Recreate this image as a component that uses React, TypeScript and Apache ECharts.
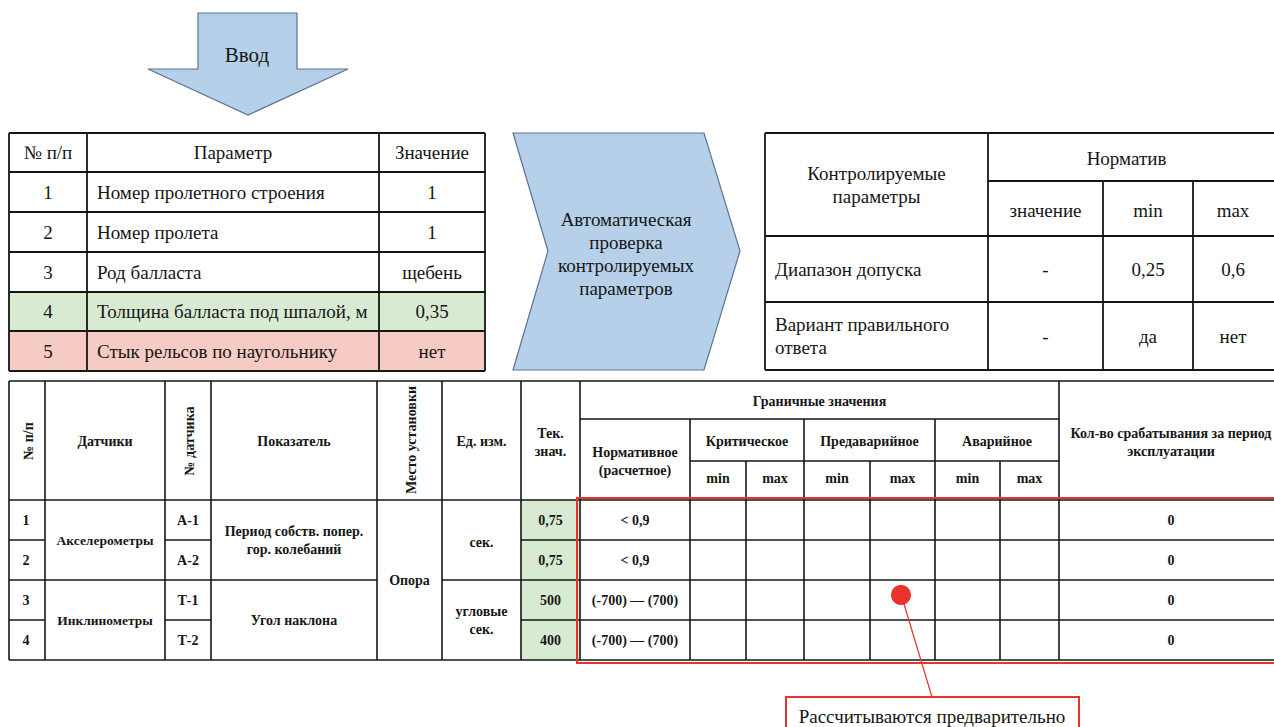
import React, { useEffect, useRef } from "react";
import * as echarts from "echarts";

// ---------- data ----------
const inputArrowLabel = "Ввод";
const checkLabel = "Автоматическая\nпроверка\nконтролируемых\nпараметров";

const inputHeaders = ["№ п/п", "Параметр", "Значение"];
const inputNums = ["1", "2", "3", "4", "5"];
const inputParams = [
  "Номер пролетного строения",
  "Номер пролета",
  "Род балласта",
  "Толщина балласта под шпалой, м",
  "Стык рельсов по наугольнику",
];
const inputValues = ["1", "1", "щебень", "0,35", "нет"];

const controlHeader = "Контролируемые\nпараметры";
const controlGroup = "Норматив";
const controlSubHeaders = ["значение", "min", "max"];
const controlParams = ["Диапазон допуска", "Вариант правильного\nответа"];
const controlValues = ["-", "-"];
const controlMin = ["0,25", "да"];
const controlMax = ["0,6", "нет"];

const sensorHeaders = ["Датчики", "Показатель", "Ед. изм.", "Тек.\nзнач."];
const rotatedHeaders = ["№ п/п", "№ датчика", "Место установки"];
const boundaryTitle = "Граничные значения";
const normHeader = "Нормативное\n(расчетное)";
const boundaryGroups = ["Критическое", "Предаварийное", "Аварийное"];
const boundLabels = ["min", "max"];
const countHeader = "Кол-во срабатывания за период\nэксплуатации";

const sensorNums = ["1", "2", "3", "4"];
const sensorTypes = ["Акселерометры", "Инклинометры"];
const sensorIds = ["А-1", "А-2", "Т-1", "Т-2"];
const indicators = ["Период собств. попер.\nгор. колебаний", "Угол наклона"];
const installPlace = "Опора";
const units = ["сек.", "угловые\nсек."];
const currentValues = ["0,75", "0,75", "500", "400"];
const normValues = ["< 0,9", "< 0,9", "(-700) — (700)", "(-700) — (700)"];
const triggerCounts = ["0", "0", "0", "0"];
const calloutLabel = "Рассчитываются предварительно";

// ---------- styles / layout ----------
const FONT = "Liberation Serif";
const INK = "#161616";
const BLUE = "#b5d0e8";
const BLUE_EDGE = "#5c7394";
const GREEN = "#d9ead3";
const PINK = "#f6cbc4";
const RED = "#e8322b";

function buildElements() {
  const els: any[] = [];
  const rect = (x: number, y: number, w: number, h: number, fill: string, stroke = "none", lw = 0) =>
    els.push({ type: "rect", shape: { x, y, width: w, height: h }, style: { fill, stroke, lineWidth: lw } });
  const ln = (x1: number, y1: number, x2: number, y2: number, color = INK, lw = 1.7) =>
    els.push({ type: "line", shape: { x1, y1, x2, y2 }, style: { stroke: color, lineWidth: lw } });
  const txt = (
    x: number,
    y: number,
    text: string,
    size: number,
    o: { align?: string; rot?: number; bold?: boolean; lh?: number; color?: string } = {}
  ) =>
    els.push({
      type: "text",
      x,
      y,
      rotation: o.rot || 0,
      style: {
        text,
        fill: o.color || INK,
        fontFamily: FONT,
        fontSize: size,
        fontWeight: o.bold ? "bold" : "normal",
        align: o.align || "center",
        verticalAlign: "middle",
        lineHeight: o.lh || Math.round(size * 1.25),
      },
    });
  const poly = (points: number[][]) =>
    els.push({ type: "polygon", shape: { points }, style: { fill: BLUE, stroke: BLUE_EDGE, lineWidth: 1.2 } });

  const TOP = 19;

  // ---- "Ввод" arrow ----
  poly([[198, 13], [297, 13], [297, 69], [348, 69], [248, 115], [148, 69], [198, 69]]);
  txt(247, 55, inputArrowLabel, 21);

  // ---- input table ----
  const tX = [9, 87, 379, 485];
  const tY = [133, 172, 212, 252, 292, 331, 371];
  rect(tX[0], tY[4], tX[3] - tX[0], tY[5] - tY[4], GREEN);
  rect(tX[0], tY[5], tX[3] - tX[0], tY[6] - tY[5], PINK);
  tY.forEach((y) => ln(tX[0], y, tX[3], y, INK, 1.8));
  tX.forEach((x) => ln(x, tY[0], x, tY[6], INK, 1.8));
  const mid = (a: number, b: number) => (a + b) / 2;
  inputHeaders.forEach((h, i) => txt(mid(tX[i], tX[i + 1]), mid(tY[0], tY[1]), h, TOP));
  inputNums.forEach((n, i) => {
    const cy = mid(tY[i + 1], tY[i + 2]);
    txt(mid(tX[0], tX[1]), cy, n, TOP);
    txt(tX[1] + 10, cy, inputParams[i], TOP, { align: "left" });
    txt(mid(tX[2], tX[3]), cy, inputValues[i], TOP);
  });

  // ---- chevron ----
  poly([[513, 133], [704, 133], [740, 251], [704, 370], [513, 370], [548, 251]]);
  txt(626, 254, checkLabel, TOP, { lh: 23 });

  // ---- control table ----
  const cX = [765, 988, 1103, 1193, 1285];
  const cY = [133, 181, 236, 302, 370];
  ln(cX[0], cY[0], cX[4], cY[0], INK, 1.8);
  ln(cX[1], cY[1], cX[4], cY[1], INK, 1.8);
  ln(cX[0], cY[2], cX[4], cY[2], INK, 1.8);
  ln(cX[0], cY[3], cX[4], cY[3], INK, 1.8);
  ln(cX[0], cY[4], cX[4], cY[4], INK, 1.8);
  ln(cX[0], cY[0], cX[0], cY[4], INK, 1.8);
  ln(cX[1], cY[0], cX[1], cY[4], INK, 1.8);
  ln(cX[2], cY[1], cX[2], cY[4], INK, 1.8);
  ln(cX[3], cY[1], cX[3], cY[4], INK, 1.8);
  txt(mid(cX[0], cX[1]), 185, controlHeader, TOP, { lh: 23 });
  txt(mid(cX[1], cX[4]) - 10, mid(cY[0], cY[1]) + 1, controlGroup, TOP);
  controlSubHeaders.forEach((h, i) => txt(mid(cX[i + 1], cX[i + 2]) - (i === 2 ? 6 : 0), 210, h, TOP));
  controlParams.forEach((p, i) => {
    const cy = mid(cY[i + 2], cY[i + 3]);
    txt(cX[0] + 10, cy, p, TOP, { align: "left", lh: 23 });
    txt(mid(cX[1], cX[2]), cy, controlValues[i], TOP);
    txt(mid(cX[2], cX[3]), cy, controlMin[i], TOP);
    txt(mid(cX[3], cX[4]) - 6, cy, controlMax[i], TOP);
  });

  // ---- sensor table ----
  const sX = [9, 45, 165, 211, 377, 442, 521, 580, 690, 746, 804, 870, 935, 1000, 1059, 1285];
  const hY = [381, 419, 461, 500];
  const rY = [500, 540, 580, 620, 660];
  rect(sX[6], rY[0], sX[7] - sX[6], rY[4] - rY[0], GREEN);
  const LW = 1.6;
  ln(sX[0], hY[0], sX[15], hY[0], INK, LW);
  ln(sX[7], hY[1], sX[14], hY[1], INK, LW);
  ln(sX[8], hY[2], sX[14], hY[2], INK, LW);
  ln(sX[0], hY[3], sX[15], hY[3], INK, LW);
  [rY[1], rY[3]].forEach((y) => {
    ln(sX[0], y, sX[1], y, INK, LW);
    ln(sX[2], y, sX[3], y, INK, LW);
    ln(sX[6], y, sX[15], y, INK, LW);
  });
  ln(sX[0], rY[2], sX[4], rY[2], INK, LW);
  ln(sX[5], rY[2], sX[15], rY[2], INK, LW);
  ln(sX[0], rY[4], sX[15], rY[4], INK, LW);
  [0, 1, 2, 3, 4, 5, 6, 7, 14].forEach((i) => ln(sX[i], hY[0], sX[i], rY[4], INK, LW));
  [8, 10, 12].forEach((i) => ln(sX[i], hY[1], sX[i], rY[4], INK, LW));
  [9, 11, 13].forEach((i) => ln(sX[i], hY[2], sX[i], rY[4], INK, LW));

  const FS = 14;
  const B = { bold: true };
  const hMid = 441;
  txt(28, hMid, rotatedHeaders[0], FS, { rot: Math.PI / 2, bold: true });
  txt(189, hMid, rotatedHeaders[1], FS, { rot: Math.PI / 2, bold: true });
  txt(411, 440, rotatedHeaders[2], FS, { rot: Math.PI / 2, bold: true });
  txt(mid(sX[1], sX[2]), hMid, sensorHeaders[0], FS, B);
  txt(mid(sX[3], sX[4]), hMid, sensorHeaders[1], FS, B);
  txt(mid(sX[5], sX[6]), hMid, sensorHeaders[2], FS, B);
  txt(mid(sX[6], sX[7]), 442, sensorHeaders[3], FS, { bold: true, lh: 18 });
  txt(mid(sX[7], sX[14]), 401, boundaryTitle, 14, B);
  txt(mid(sX[7], sX[8]), 461, normHeader, FS, { bold: true, lh: 18 });
  boundaryGroups.forEach((g, i) => txt(mid(sX[8 + 2 * i], sX[10 + 2 * i]), 441, g, FS, B));
  for (let i = 0; i < 6; i++) txt(mid(sX[8 + i], sX[9 + i]), 478, boundLabels[i % 2], FS, B);
  txt(1171, 442, countHeader, FS, { bold: true, lh: 18 });

  sensorNums.forEach((n, i) => {
    const cy = mid(rY[i], rY[i + 1]);
    txt(26, cy, n, FS, B);
    txt(mid(sX[2], sX[3]), cy, sensorIds[i], FS, B);
    txt(mid(sX[6], sX[7]), cy, currentValues[i], FS, B);
    txt(mid(sX[7], sX[8]), cy, normValues[i], FS, B);
    txt(1171, cy, triggerCounts[i], FS, B);
  });
  sensorTypes.forEach((s, i) => {
    const cy = mid(rY[2 * i], rY[2 * i + 2]);
    txt(mid(sX[1], sX[2]), cy, s, 13.5, B);
    txt(mid(sX[3], sX[4]), cy, indicators[i], FS, { bold: true, lh: 18 });
    txt(mid(sX[5], sX[6]), cy + (i === 0 ? 2 : 0), units[i], FS, { bold: true, lh: 18 });
  });
  txt(mid(sX[4], sX[5]), 580, installPlace, FS, B);

  // ---- red highlight & callout ----
  els.push({ type: "rect", shape: { x: 577, y: 498, width: 712, height: 165 }, style: { fill: "none", stroke: RED, lineWidth: 2 } });
  ln(904, 604, 932, 697, RED, 1.2);
  els.push({ type: "circle", shape: { cx: 901, cy: 595, r: 10 }, style: { fill: RED } });
  els.push({ type: "rect", shape: { x: 786, y: 697, width: 293, height: 45 }, style: { fill: "#fff", stroke: RED, lineWidth: 2 } });
  txt(932, 716, calloutLabel, TOP);

  return els;
}

export default function App() {
  const ref = useRef<HTMLDivElement>(null);
  useEffect(() => {
    if (!ref.current) return;
    const chart = echarts.init(ref.current, null, { renderer: "svg" });
    chart.setOption({ animation: false, graphic: { elements: buildElements() } });
    return () => chart.dispose();
  }, []);
  return (
    <div
      ref={ref}
      style={{ position: "absolute", left: 0, top: 0, width: 1274, height: 727, background: "#fff", overflow: "hidden" }}
    />
  );
}
